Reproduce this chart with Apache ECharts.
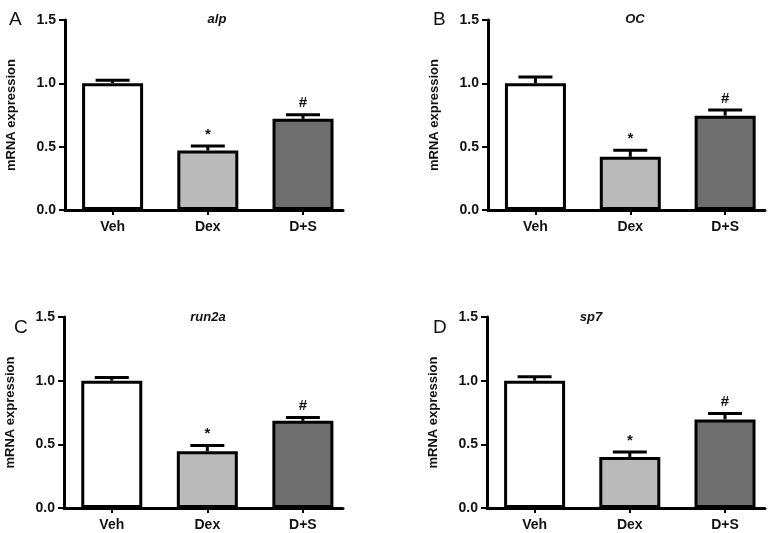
<!DOCTYPE html>
<html>
<head>
<meta charset="utf-8">
<script src="https://cdn.jsdelivr.net/npm/echarts@6/dist/echarts.min.js"></script>
<style>
html,body{margin:0;padding:0;background:#fff;}
#chart{width:771px;height:533px;}
</style>
</head>
<body>
<div id="chart"></div>
<script>
// ---- data ----
var categories = ['Veh', 'Dex', 'D+S'];
var panelLetters = ['A', 'B', 'C', 'D'];
var geneNames = ['alp', 'OC', 'run2a', 'sp7'];
var yTicks = [0, 0.5, 1.0, 1.5];
var sigMarks = ['', '*', '#'];
var barColors = ['#ffffff', '#bababa', '#6e6e6e'];

var alpMean = [1.0, 0.47, 0.72];
var alpErr = [0.025, 0.035, 0.032];
var ocMean = [1.0, 0.42, 0.745];
var ocErr = [0.05, 0.052, 0.045];
var run2aMean = [1.0, 0.445, 0.685];
var run2aErr = [0.025, 0.045, 0.025];
var sp7Mean = [1.0, 0.40, 0.695];
var sp7Err = [0.03, 0.04, 0.048];

var means = [alpMean, ocMean, run2aMean, sp7Mean];
var errs = [alpErr, ocErr, run2aErr, sp7Err];

// ---- layout ----
var FONT = '"Liberation Sans", Arial, Helvetica, sans-serif';
var grids = [
  {left: 65, top: 20, width: 278, height: 190},
  {left: 488, top: 20, width: 277, height: 190},
  {left: 64, top: 317, width: 279, height: 191},
  {left: 487, top: 317, width: 278, height: 191}
];
var letterPos = [[4, 5], [428, 5], [9, 313], [428, 313]];
var titlePos = [[212, 8], [630, 8], [203, 306], [586, 306]];

var option = {
  backgroundColor: '#ffffff',
  animation: false,
  grid: grids.map(function (g) { return Object.assign({containLabel: false}, g); }),
  title: [],
  xAxis: [],
  yAxis: [],
  series: []
};

for (var p = 0; p < 4; p++) {
  option.title.push({
    text: panelLetters[p], left: letterPos[p][0], top: letterPos[p][1],
    textStyle: {fontFamily: FONT, fontSize: 19, fontWeight: 'normal', color: '#111'}
  });
  option.title.push({
    text: geneNames[p], left: titlePos[p][0], top: titlePos[p][1], textAlign: 'center',
    textStyle: {fontFamily: FONT, fontSize: 13, fontWeight: 'bold', fontStyle: 'italic', color: '#111'}
  });
  option.xAxis.push({
    type: 'value', gridIndex: p, min: -0.5, max: 2.42,
    axisLine: {show: true, onZero: false, lineStyle: {color: '#000', width: 3}},
    axisTick: {show: true, customValues: [0, 1, 2], length: 5, lineStyle: {color: '#000', width: 2}},
    axisLabel: {
      customValues: [0, 1, 2], margin: 10,
      formatter: function (v) { return categories[Math.round(v)]; },
      fontFamily: FONT, fontSize: 14, fontWeight: 'bold', color: '#111'
    },
    splitLine: {show: false}
  });
  option.yAxis.push({
    type: 'value', gridIndex: p, min: 0, max: 1.5, interval: 0.5,
    name: 'mRNA expression', nameLocation: 'middle', nameGap: 47,
    nameTextStyle: {fontFamily: FONT, fontSize: 13, fontWeight: 'bold', color: '#111'},
    axisLine: {show: true, onZero: false, lineStyle: {color: '#000', width: 3}},
    axisTick: {show: true, length: 6, lineStyle: {color: '#000', width: 2}},
    axisLabel: {
      margin: 9, formatter: function (v) { return v.toFixed(1); },
      fontFamily: FONT, fontSize: 14, fontWeight: 'bold', color: '#111'
    },
    splitLine: {show: false}
  });
  var barData = means[p].map(function (m, i) {
    return {value: [i, m], itemStyle: {color: barColors[i]}};
  });
  option.series.push({
    type: 'bar', xAxisIndex: p, yAxisIndex: p, barWidth: 61, data: barData,
    itemStyle: {borderColor: '#000', borderWidth: 3}, z: 2
  });
  var ebData = means[p].map(function (m, i) { return [i, m, errs[p][i]]; });
  option.series.push({
    type: 'custom', xAxisIndex: p, yAxisIndex: p, data: ebData, z: 3,
    renderItem: function (params, api) {
      var x = api.value(0), v = api.value(1), e = api.value(2);
      var top = api.coord([x, v]);
      var cap = api.coord([x, v + e]);
      var hw = 17;
      var mark = sigMarks[params.dataIndex];
      return {
        type: 'group',
        children: [
          {type: 'line', shape: {x1: top[0], y1: top[1], x2: cap[0], y2: cap[1]}, style: {stroke: '#000', lineWidth: 3}},
          {type: 'line', shape: {x1: cap[0] - hw, y1: cap[1], x2: cap[0] + hw, y2: cap[1]}, style: {stroke: '#000', lineWidth: 3}},
          {type: 'text', style: {text: mark, x: cap[0], y: cap[1] - 4, align: 'center', verticalAlign: 'bottom',
            font: 'bold 15px ' + FONT, fill: '#111'}}
        ]
      };
    }
  });
}

var chart = echarts.init(document.getElementById('chart'), null, {renderer: 'canvas'});
chart.setOption(option);
</script>
</body>
</html>
